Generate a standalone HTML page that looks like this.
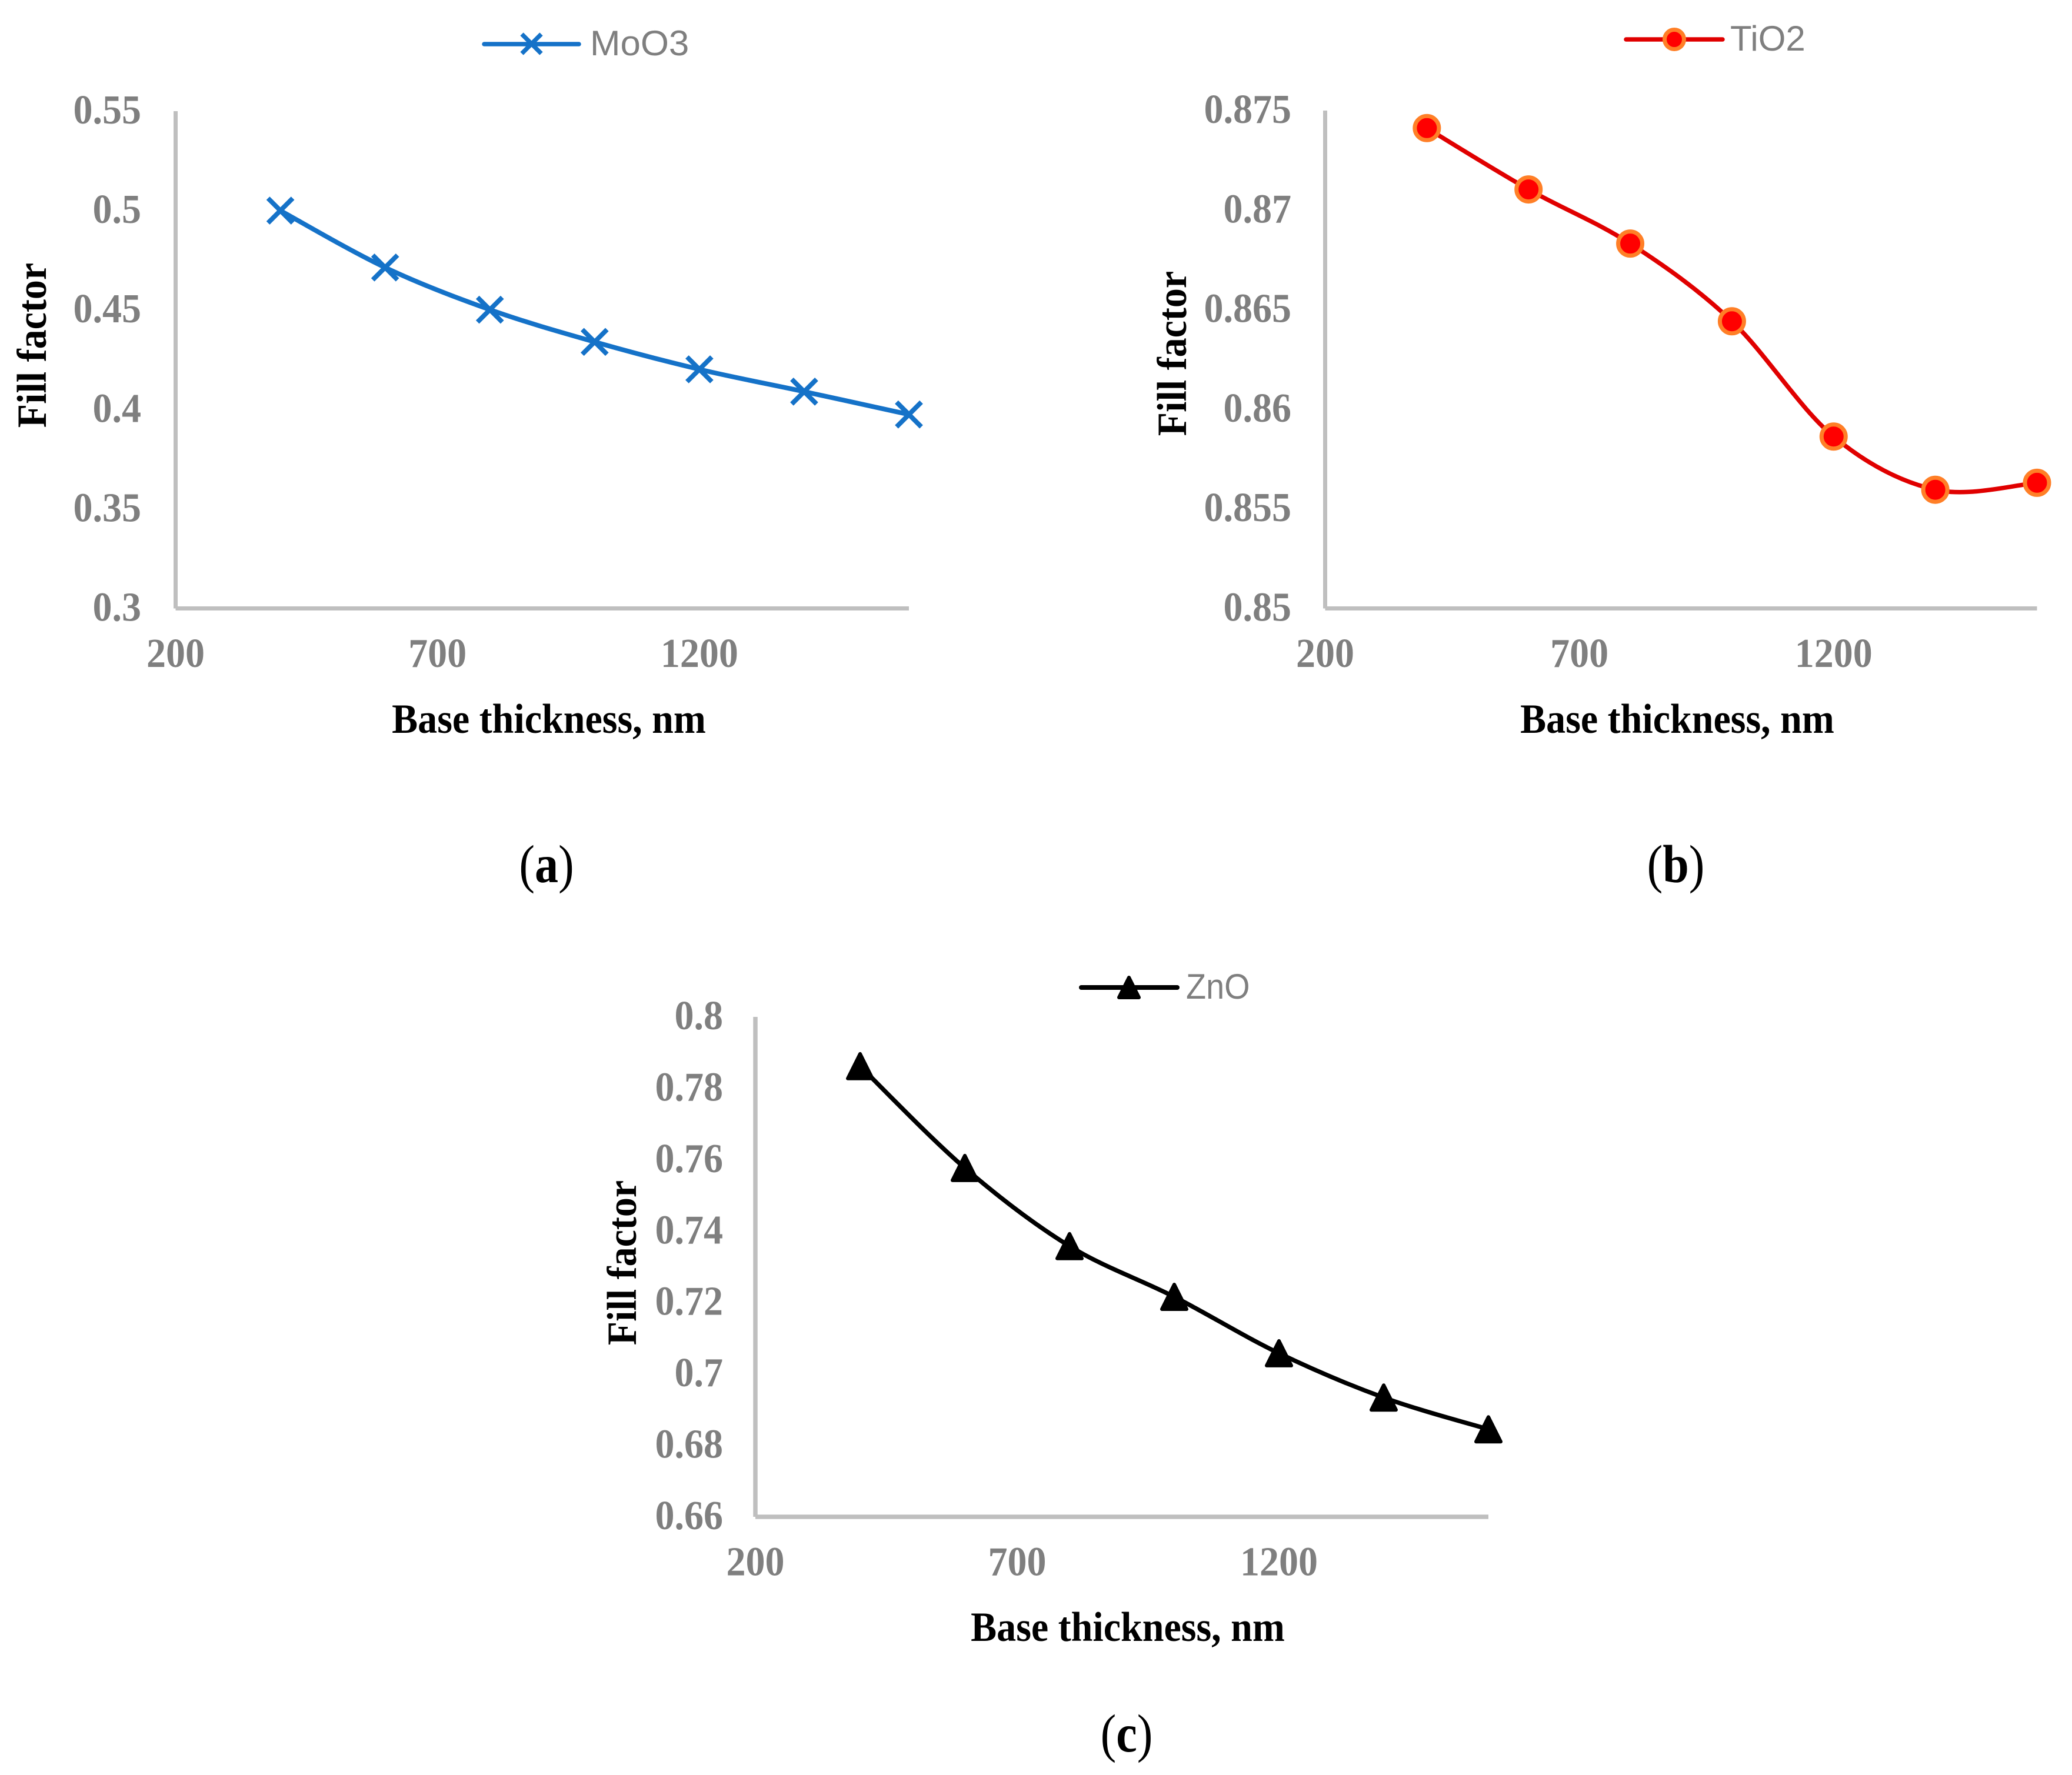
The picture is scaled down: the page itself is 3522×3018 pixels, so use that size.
<!DOCTYPE html>
<html lang="en">
<head>
<meta charset="utf-8">
<title>Fill factor vs base thickness</title>
<style>
  html, body { margin: 0; padding: 0; background: #ffffff; }
  svg { display: block; }
  .tick { font-family: "Liberation Serif", serif; font-weight: 700; font-size: 69.5px; fill: #7f7f7f; }
  .title { font-family: "Liberation Serif", serif; font-weight: 700; font-size: 71px; fill: #000000; }
  .legend { font-family: "Liberation Sans", sans-serif; font-size: 60px; fill: #7f7f7f; }
  .caption { font-family: "Liberation Serif", serif; font-size: 91px; fill: #000000; }
  .caption .letter { font-weight: 700; }
</style>
</head>
<body>
<svg id="figure" xmlns="http://www.w3.org/2000/svg" width="3522" height="3018" viewBox="0 0 3522 3018">
  <rect x="0" y="0" width="3522" height="3018" fill="#ffffff"/>

  <g id="chart-a">
    <g>
      <line x1="823" y1="75" x2="984" y2="75" stroke="#1572c8" stroke-width="7.5" stroke-linecap="round"/>
      <line x1="887" y1="58" x2="920" y2="91" stroke="#1572c8" stroke-width="7.5"/>
      <line x1="920" y1="58" x2="887" y2="91" stroke="#1572c8" stroke-width="7.5"/>
      <text class="legend" transform="translate(1003,94) scale(1.03,1)">MoO3</text>
    </g>
    <text class="title" text-anchor="middle" transform="translate(933,1246) scale(0.93,1)">Base thickness, nm</text>
    <text class="title" text-anchor="middle" transform="translate(78,587) rotate(-90) scale(0.93,1)">Fill factor</text>
    <text class="caption" text-anchor="middle" transform="translate(929,1500) scale(0.88,1)">(<tspan class="letter">a</tspan>)</text>
  </g>

  <g id="chart-b">
    <g>
      <line x1="2764" y1="67" x2="2928" y2="67" stroke="#e00000" stroke-width="7.5" stroke-linecap="round"/>
      <circle cx="2846" cy="67" r="16.5" fill="#ff0000" stroke="#ff7f27" stroke-width="7"/>
      <text class="legend" transform="translate(2941,86)">TiO2</text>
    </g>
    <text class="title" text-anchor="middle" transform="translate(2851,1246) scale(0.93,1)">Base thickness, nm</text>
    <text class="title" text-anchor="middle" transform="translate(2016,601) rotate(-90) scale(0.93,1)">Fill factor</text>
    <text class="caption" text-anchor="middle" transform="translate(2848.5,1500) scale(0.88,1)">(<tspan class="letter">b</tspan>)</text>
  </g>

  <g id="chart-c">
    <g>
      <line x1="1838" y1="1679" x2="2001" y2="1679" stroke="#000000" stroke-width="8" stroke-linecap="round"/>
      <polygon points="1919,1662 1936,1696 1902,1696" fill="#000000" stroke="#000000" stroke-width="6" stroke-linejoin="round"/>
      <text class="legend" transform="translate(2016,1698) scale(0.93,1)">ZnO</text>
    </g>
    <text class="title" text-anchor="middle" transform="translate(1917,2790) scale(0.93,1)">Base thickness, nm</text>
    <text class="title" text-anchor="middle" transform="translate(1081,2147) rotate(-90) scale(0.93,1)">Fill factor</text>
    <text class="caption" text-anchor="middle" transform="translate(1915,2978) scale(0.88,1)">(<tspan class="letter">c</tspan>)</text>
  </g>
</svg>

<script>
const thicknessNm = [400, 600, 800, 1000, 1200, 1400, 1600];
const moo3FillFactor = [0.5, 0.4714, 0.4502, 0.434, 0.4202, 0.409, 0.3975];
const tio2FillFactor = [0.87412, 0.87104, 0.86832, 0.86442, 0.85863, 0.85596, 0.85631];
const znoFillFactor = [0.7862, 0.7577, 0.7358, 0.7216, 0.7058, 0.6934, 0.6845];
const xTickLabels = ['200', '700', '1200'];
const moo3YTickLabels = ['0.3', '0.35', '0.4', '0.45', '0.5', '0.55'];
const tio2YTickLabels = ['0.85', '0.855', '0.86', '0.865', '0.87', '0.875'];
const znoYTickLabels = ['0.66', '0.68', '0.7', '0.72', '0.74', '0.76', '0.78', '0.8'];

const SVG_NS = 'http://www.w3.org/2000/svg';

function make(tag, attrs) {
  const el = document.createElementNS(SVG_NS, tag);
  for (const k in attrs) el.setAttribute(k, attrs[k]);
  return el;
}

function smoothPath(pts) {
  let d = 'M' + pts[0][0] + ' ' + pts[0][1];
  for (let i = 0; i < pts.length - 1; i++) {
    const p0 = pts[Math.max(i - 1, 0)];
    const p1 = pts[i];
    const p2 = pts[i + 1];
    const p3 = pts[Math.min(i + 2, pts.length - 1)];
    const c1x = p1[0] + (p2[0] - p0[0]) / 6;
    const c1y = p1[1] + (p2[1] - p0[1]) / 6;
    const c2x = p2[0] - (p3[0] - p1[0]) / 6;
    const c2y = p2[1] - (p3[1] - p1[1]) / 6;
    d += ' C' + c1x + ' ' + c1y + ' ' + c2x + ' ' + c2y + ' ' + p2[0] + ' ' + p2[1];
  }
  return d;
}

function drawChart(cfg) {
  const root = document.getElementById(cfg.rootId);
  const xAt = v => cfg.left + (v - cfg.xMin) * (cfg.right - cfg.left) / (cfg.xMax - cfg.xMin);
  const yAt = v => cfg.bottom - (v - cfg.yMin) * (cfg.bottom - cfg.top) / (cfg.yMax - cfg.yMin);

  const yAxis = make('line', { x1: cfg.left, y1: cfg.top, x2: cfg.left, y2: cfg.bottom, stroke: '#bfbfbf', 'stroke-width': cfg.axisWidth });
  
  
  root.appendChild(yAxis);

  const xAxis = make('line', { x1: cfg.left, y1: cfg.bottom, x2: cfg.right, y2: cfg.bottom, stroke: '#bfbfbf', 'stroke-width': cfg.axisWidth });
  
  
  root.appendChild(xAxis);

  cfg.yTicks.forEach(label => {
    const t = make('text', { class: 'tick', 'text-anchor': 'end', transform: 'translate(' + cfg.yLabelRight + ',' + (yAt(parseFloat(label)) + 21) + ') scale(0.95,1)' });
    
    
    t.textContent = label;
    root.appendChild(t);
  });

  cfg.xTicks.forEach(label => {
    const t = make('text', { class: 'tick', 'text-anchor': 'middle', transform: 'translate(' + xAt(parseFloat(label)) + ',' + (cfg.bottom + 99.5) + ') scale(0.95,1)' });
    
    
    t.textContent = label;
    root.appendChild(t);
  });

  const pts = cfg.categories.map((c, i) => [xAt(c), yAt(cfg.values[i])]);

  const line = make('path', { d: smoothPath(pts), fill: 'none', stroke: cfg.color, 'stroke-width': cfg.lineWidth, 'stroke-linejoin': 'round' });
  
  
  root.appendChild(line);

  pts.forEach(p => {
    const m = cfg.marker(p[0], p[1]);
    
    
    root.appendChild(m);
  });
}

function crossMarker(x, y) {
  const g = make('g', {});
  const s = 21;
  g.appendChild(make('line', { x1: x - s, y1: y - s, x2: x + s, y2: y + s, stroke: '#1572c8', 'stroke-width': 8 }));
  g.appendChild(make('line', { x1: x - s, y1: y + s, x2: x + s, y2: y - s, stroke: '#1572c8', 'stroke-width': 8 }));
  return g;
}

function circleMarker(x, y) {
  return make('circle', { cx: x, cy: y, r: 20.5, fill: '#ff0000', stroke: '#ff7f27', 'stroke-width': 7 });
}

function triangleMarker(x, y) {
  const pts = [[x, y - 21], [x + 21, y + 21], [x - 21, y + 21]].map(p => p.join(',')).join(' ');
  return make('polygon', { points: pts, fill: '#000000', stroke: '#000000', 'stroke-width': 6, 'stroke-linejoin': 'round' });
}

drawChart({
  rootId: 'chart-a', series: 'moo3', categories: thicknessNm, values: moo3FillFactor,
  xTicks: xTickLabels, yTicks: moo3YTickLabels,
  xMin: 200, xMax: 1600, yMin: 0.3, yMax: 0.55,
  left: 298.5, right: 1545, top: 189, bottom: 1034.5,
  yLabelRight: 240, axisWidth: 7, lineWidth: 8, color: '#1572c8', marker: crossMarker
});

drawChart({
  rootId: 'chart-b', series: 'tio2', categories: thicknessNm, values: tio2FillFactor,
  xTicks: xTickLabels, yTicks: tio2YTickLabels,
  xMin: 200, xMax: 1600, yMin: 0.85, yMax: 0.875,
  left: 2252.5, right: 3462.5, top: 188, bottom: 1034.5,
  yLabelRight: 2195, axisWidth: 7, lineWidth: 7.5, color: '#e00000', marker: circleMarker
});

drawChart({
  rootId: 'chart-c', series: 'zno', categories: thicknessNm, values: znoFillFactor,
  xTicks: xTickLabels, yTicks: znoYTickLabels,
  xMin: 200, xMax: 1600, yMin: 0.66, yMax: 0.8,
  left: 1284, right: 2530, top: 1729, bottom: 2579,
  yLabelRight: 1229, axisWidth: 7.5, lineWidth: 7.5, color: '#000000', marker: triangleMarker
});
</script>
</body>
</html>
